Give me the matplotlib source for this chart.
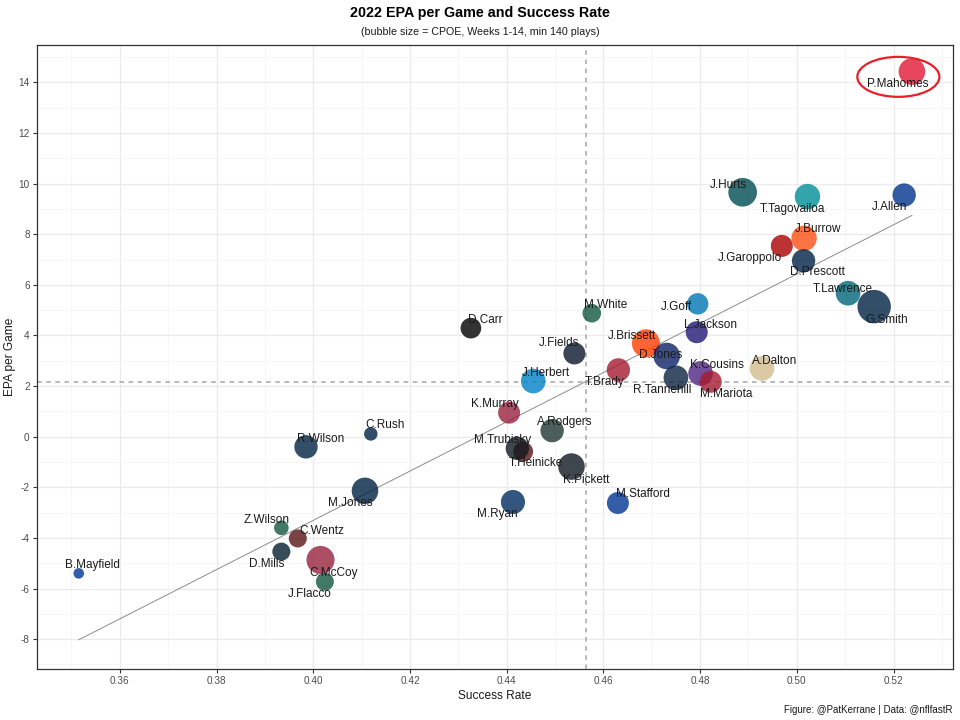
import numpy as np
import matplotlib
matplotlib.use("Agg")
import matplotlib.pyplot as plt
from matplotlib.patches import Ellipse

plt.rcParams['font.family'] = ['Liberation Sans', 'DejaVu Sans']
plt.rcParams['axes.unicode_minus'] = False

# --- data ---
players = ['B.Mayfield', 'J.Flacco', 'C.McCoy', 'D.Mills', 'C.Wentz', 'Z.Wilson',
           'M.Jones', 'R.Wilson', 'C.Rush', 'M.Ryan', 'M.Stafford', 'K.Pickett',
           'T.Heinicke', 'M.Trubisky', 'A.Rodgers', 'K.Murray', 'A.Dalton',
           'R.Tannehill', 'K.Cousins', 'M.Mariota', 'J.Herbert', 'T.Brady',
           'J.Brissett', 'D.Jones', 'J.Fields', 'D.Carr', 'M.White', 'L.Jackson',
           'J.Goff', 'T.Lawrence', 'G.Smith', 'J.Garoppolo', 'J.Burrow',
           'D.Prescott', 'T.Tagovailoa', 'J.Hurts', 'J.Allen', 'P.Mahomes']
teams = ['LA', 'NYJ', 'ARI', 'HOU', 'WAS', 'NYJ',
         'NE', 'DEN', 'DAL', 'IND', 'LA', 'PIT',
         'WAS', 'PIT', 'GB', 'ARI', 'NO',
         'TEN', 'MIN', 'ATL', 'LAC', 'TB',
         'CLE', 'NYG', 'CHI', 'LV', 'NYJ', 'BAL',
         'DET', 'JAX', 'SEA', 'SF', 'CIN',
         'DAL', 'MIA', 'PHI', 'BUF', 'KC']
success_rate = [0.3515, 0.4024, 0.4015, 0.3934, 0.3968, 0.3934,
                0.4107, 0.3985, 0.4119, 0.4413, 0.4630, 0.4534,
                0.4434, 0.4422, 0.4494, 0.4405, 0.4928,
                0.4750, 0.4801, 0.4822, 0.4455, 0.4631,
                0.4688, 0.4731, 0.4540, 0.4326, 0.4576, 0.4793,
                0.4795, 0.5106, 0.5160, 0.4969, 0.5015,
                0.5014, 0.5022, 0.4888, 0.5222, 0.5238]
epa_per_game = [-5.40, -5.73, -4.87, -4.54, -4.02, -3.60,
                -2.14, -0.40, 0.11, -2.58, -2.62, -1.18,
                -0.59, -0.46, 0.24, 0.95, 2.70,
                2.33, 2.50, 2.17, 2.20, 2.64,
                3.69, 3.19, 3.29, 4.29, 4.88, 4.13,
                5.25, 5.67, 5.14, 7.54, 7.84,
                6.95, 9.49, 9.66, 9.55, 14.43]
cpoe = [-6.0, -2.1, 3.2, -2.1, -2.1, -3.9,
        2.4, 0.7, -4.5, 1.1, 0.0, 2.4,
        -1.1, 0.7, 0.7, 0.0, 1.4,
        1.4, 1.4, 0.0, 1.4, 0.7,
        3.2, 2.4, 0.0, -0.7, -1.8, 0.0,
        -0.3, 1.4, 6.0, 0.0, 1.8,
        0.7, 1.8, 3.5, 0.7, 2.4]

team_colors = {
    'ARI': '#97233F', 'ATL': '#A71930', 'BAL': '#241773', 'BUF': '#00338D',
    'CHI': '#0B162A', 'CIN': '#FB4F14', 'CLE': '#FF3C00', 'DAL': '#002244',
    'DEN': '#002244', 'DET': '#0076B6', 'GB': '#203731', 'HOU': '#03202F',
    'IND': '#002C5F', 'JAX': '#006778', 'KC': '#E31837', 'LA': '#003594',
    'LAC': '#0080C6', 'LV': '#000000', 'MIA': '#008E97', 'MIN': '#4F2683',
    'NE': '#002244', 'NO': '#D3BC8D', 'NYG': '#0B2265', 'NYJ': '#125740',
    'PHI': '#004C54', 'PIT': '#101820', 'SEA': '#002244', 'SF': '#AA0000',
    'TB': '#A71930', 'TEN': '#0C2340', 'WAS': '#5A1414',
}

# label offsets from the point, in pixels (right, down) -- repel-style placement
label_offsets = {
    'P.Mahomes': (-14, 12), 'J.Allen': (-15, 12), 'J.Hurts': (-14, -7),
    'T.Tagovailoa': (-15, 12), 'J.Burrow': (14, -9), 'J.Garoppolo': (-32, 12),
    'D.Prescott': (14, 11), 'T.Lawrence': (-5, -4), 'G.Smith': (13, 13),
    'D.Carr': (14, -8), 'M.White': (14, -8), 'J.Goff': (-21, 3),
    'L.Jackson': (14, -7), 'J.Fields': (-15, -10), 'J.Brissett': (-14, -7),
    'D.Jones': (-6, -1), 'K.Cousins': (16, -8), 'A.Dalton': (13, -7),
    'J.Herbert': (13, -8), 'T.Brady': (-14, 12), 'R.Tannehill': (-14, 12),
    'M.Mariota': (15, 12), 'K.Murray': (-14, -9), 'A.Rodgers': (13, -9),
    'M.Trubisky': (-15, -8), 'T.Heinicke': (13, 11), 'K.Pickett': (15, 13),
    'M.Stafford': (25, -9), 'M.Ryan': (-16, 12), 'C.Rush': (14, -9),
    'R.Wilson': (15, -8), 'M.Jones': (-15, 12), 'Z.Wilson': (-15, -8),
    'C.Wentz': (24, -7), 'D.Mills': (-15, 12), 'C.McCoy': (13, 13),
    'J.Flacco': (-15, 12), 'B.Mayfield': (14, -8),
}

x = np.array(success_rate)
y = np.array(epa_per_game)
c = np.array(cpoe)

DPI = 100
PX2PT = 72 / DPI

# bubble radius (px) scaled linearly with CPOE
r_px = 5.3 + 11.4 * (c - c.min()) / (c.max() - c.min())
sizes = (2 * r_px * PX2PT) ** 2
colors = [team_colors[t] for t in teams]

fig = plt.figure(figsize=(9.6, 7.2), dpi=DPI)
ax = fig.add_axes([0.0382, 0.0708, 0.9545, 0.8671])

# regression line (lm fit)
slope, intercept = np.polyfit(x, y, 1)
xs = np.array([x.min(), x.max()])
ax.plot(xs, intercept + slope * xs, color='#8c8c8c', lw=0.7, zorder=2)

# mean reference lines
ax.axvline(x.mean(), color='#a6a6a6', lw=1.1, ls=(0, (3, 3)), zorder=1.5)
ax.axhline(y.mean(), color='#a6a6a6', lw=1.1, ls=(0, (3, 3)), zorder=1.5)

ax.scatter(x, y, s=sizes, c=colors, alpha=0.8, linewidths=0, zorder=3)

for name, xi, yi in zip(players, x, y):
    dx, dy = label_offsets[name]
    ax.annotate(name, (xi, yi), xytext=(dx * PX2PT, -dy * PX2PT),
                textcoords='offset points', ha='center', va='center',
                fontsize=8.5, color='#1a1a1a', zorder=4)

# highlight ellipse around Mahomes
ax.add_patch(Ellipse((0.5210, 14.22), 0.01697, 1.58, fill=False,
                     edgecolor='#e8202a', lw=1.6, zorder=5))

ax.set_xlim(0.3428, 0.5323)
ax.set_ylim(-9.18, 15.49)
ax.set_xticks(np.arange(0.36, 0.521, 0.02))
ax.set_xticklabels([f'{v:.2f}' for v in np.arange(0.36, 0.521, 0.02)])
ax.set_xticks(np.arange(0.35, 0.531, 0.02), minor=True)
ax.set_yticks(np.arange(-8, 15, 2))
ax.set_yticks(np.arange(-9, 16, 2), minor=True)

ax.grid(which='major', color='#ebebeb', lw=0.9, zorder=0)
ax.grid(which='minor', color='#f3f3f3', lw=0.5, zorder=0)
ax.set_axisbelow(True)
for s in ax.spines.values():
    s.set_color('#333333')
    s.set_linewidth(0.9)
ax.tick_params(which='major', length=3, width=0.8, color='#333333',
               labelsize=7.2, labelcolor='#4d4d4d', pad=2)
ax.tick_params(which='minor', length=0)

ax.set_xlabel('Success Rate', fontsize=8.6, color='#1a1a1a', labelpad=3)
ax.set_ylabel('EPA per Game', fontsize=8.6, color='#1a1a1a', labelpad=2)

fig.text(0.5, 1 - 13 / 720, '2022 EPA per Game and Success Rate', ha='center',
         va='center', fontsize=10.3, fontweight='bold', color='#000000')
fig.text(0.5, 1 - 32 / 720, '(bubble size = CPOE, Weeks 1-14, min 140 plays)',
         ha='center', va='center', fontsize=7.7, color='#1a1a1a')
fig.text(1 - 8 / 960, 1 - 710 / 720, 'Figure: @PatKerrane | Data: @nflfastR',
         ha='right', va='center', fontsize=7, color='#1a1a1a')

fig.savefig('out.png', dpi=DPI)
